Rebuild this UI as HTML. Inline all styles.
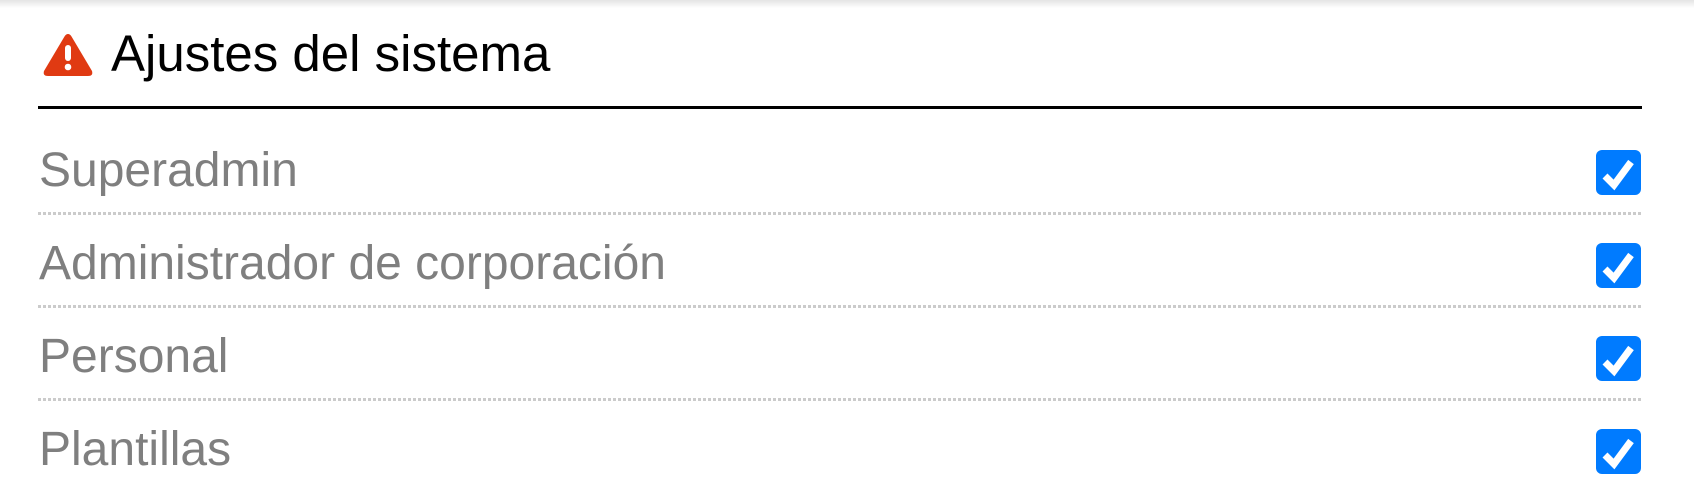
<!DOCTYPE html>
<html><head><meta charset="utf-8"><style>
html,body{margin:0;padding:0;background:#fff;}
body{width:1694px;height:504px;position:relative;overflow:hidden;font-family:"Liberation Sans",sans-serif;}
.shadow{position:absolute;left:0;top:0;width:1694px;height:8px;background:linear-gradient(#e4e4e4,#fff);}
.title{position:absolute;left:111px;top:24px;font-size:51px;line-height:60px;color:#000;white-space:nowrap;}
.hr{position:absolute;left:38px;width:1604px;top:106px;height:3px;background:#000;}
.row{position:absolute;left:39px;font-size:48px;line-height:56px;color:#7f7f7f;white-space:nowrap;}
.dot{position:absolute;left:38px;width:1604px;height:3px;background:repeating-linear-gradient(90deg,#cbcbcb 0 3px,transparent 3px 5px);}
.cb{position:absolute;left:1596px;width:45px;height:45px;border-radius:6px;background:#007bff;}
.cb svg{position:absolute;left:0;top:0;}
</style></head><body>
<div class="shadow"></div>
<svg style="position:absolute;left:42px;top:33px" width="52" height="44" viewBox="0 0 52 44">
<path d="M26 1 Q28 1 29.5 3.5 L50 38 Q51.5 43 46 43 L6 43 Q0.5 43 2 38 L22.5 3.5 Q24 1 26 1Z" fill="#e03a12"/>
<rect x="23" y="12" width="6" height="16" rx="3" fill="#fff"/>
<circle cx="26" cy="34" r="3.3" fill="#fff"/>
</svg>
<div class="title">Ajustes del sistema</div>
<div class="hr"></div>

<div class="row" style="top:143px">Superadmin</div>
<div class="dot" style="top:212px"></div>
<div class="row" style="top:236px">Administrador de corporación</div>
<div class="dot" style="top:305px"></div>
<div class="row" style="top:329px">Personal</div>
<div class="dot" style="top:398px"></div>
<div class="row" style="top:422px">Plantillas</div>

<div class="cb" style="top:150px"><svg width="45" height="45"><path d="M9 26 L18 35 L35 12" stroke="#fff" stroke-width="7" fill="none"/></svg></div>
<div class="cb" style="top:243px"><svg width="45" height="45"><path d="M9 26 L18 35 L35 12" stroke="#fff" stroke-width="7" fill="none"/></svg></div>
<div class="cb" style="top:336px"><svg width="45" height="45"><path d="M9 26 L18 35 L35 12" stroke="#fff" stroke-width="7" fill="none"/></svg></div>
<div class="cb" style="top:429px"><svg width="45" height="45"><path d="M9 26 L18 35 L35 12" stroke="#fff" stroke-width="7" fill="none"/></svg></div>
</body></html>
